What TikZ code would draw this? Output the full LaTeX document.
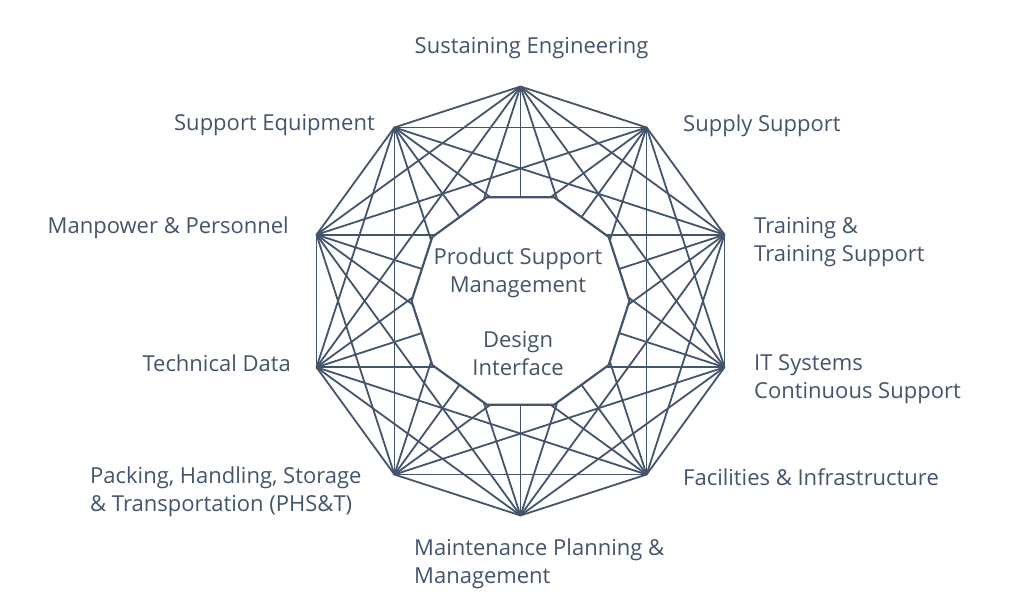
\documentclass[tikz,border=0pt]{standalone}
\usepackage{fontspec}
\setmainfont{Open Sans}
\usetikzlibrary{positioning}
\definecolor{slate}{HTML}{44546A}
\tikzstyle{link}=[draw=slate, line width=1.8pt, line join=round]
\tikzstyle{hub}=[draw=slate, fill=white, line width=2.2pt, line join=round]
\tikzstyle{element}=[text=slate, font=\fontsize{22}{28}\selectfont, inner sep=0pt, align=left]

\begin{document}
\begin{tikzpicture}[x=1pt, y=1pt]
      \useasboundingbox (0,0) rectangle (1034,614);
      \coordinate (centre) at (520.5,313);

      % outer decagon, every vertex joined to every other
      \foreach \i in {0,...,9}
        \path (centre) ++(90-36*\i:214.5) coordinate (v\i);
      \foreach \i in {0,...,8} {
        \pgfmathtruncatemacro\nxt{\i+1}
        \foreach \j in {\nxt,...,9}
          \draw[link] (v\i) -- (v\j);
      }

      % white hub on top
      \foreach \i in {0,...,9}
        \path (centre) ++(36*\i:109) coordinate (h\i);
      \draw[hub] (h0) -- (h1) -- (h2) -- (h3) -- (h4) -- (h5) -- (h6)
        -- (h7) -- (h8) -- (h9) -- cycle;

      \node[element, align=center] (psm) at (518,341.5) {Product Support\\Management};
      \node[element, align=center] (design) at (518,260) {Design\\Interface};

      \node[element] (sustain) at (531.5,565.5) {Sustaining Engineering};
      \node[element, anchor=west] (supply) at (683,488.5) {Supply Support};
      \node[element, anchor=west] (training) at (754,372) {Training \&\\Training Support};
      \node[element, anchor=west] (itsys) at (754,235) {IT Systems\\Continuous Support};
      \node[element, anchor=west] (facilities) at (683,137) {Facilities \& Infrastructure};
      \node[element, anchor=west] (maintenance) at (414,50) {Maintenance Planning \&\\Management};
      \node[element, anchor=west] (phst) at (90,122) {Packing, Handling, Storage\\\& Transportation (PHS\&T)};
      \node[element, anchor=east] (techdata) at (291,251) {Technical Data};
      \node[element, anchor=east] (manpower) at (289,386) {Manpower \& Personnel};
      \node[element, anchor=east] (equipment) at (375,488.5) {Support Equipment};
\end{tikzpicture}
\end{document}
